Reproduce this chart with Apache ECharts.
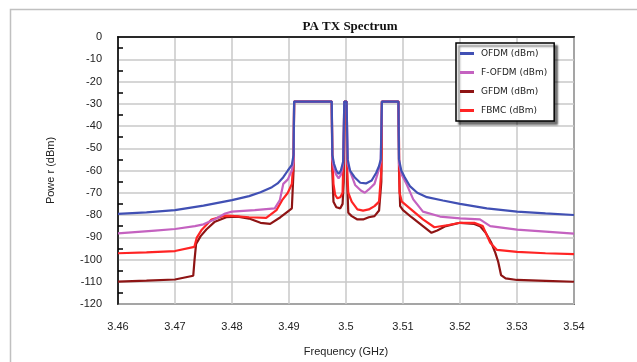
<!DOCTYPE html>
<html>
<head>
<meta charset="utf-8">
<script src="https://cdn.jsdelivr.net/npm/echarts@6/dist/echarts.min.js"></script>
<style>html,body{margin:0;padding:0;background:#fff}#c{width:637px;height:362px}</style>
</head>
<body>
<div id="c"></div>
<script>
const seriesNames = ['OFDM (dBm)', 'F-OFDM (dBm)', 'GFDM (dBm)', 'FBMC (dBm)'];
const xTicks = [3.46, 3.47, 3.48, 3.49, 3.50, 3.51, 3.52, 3.53, 3.54];
const yTicks = [0, -10, -20, -30, -40, -50, -60, -70, -80, -90, -100, -110, -120];

const ofdm = [[3.46,-79.5],[3.465,-78.8],[3.47,-77.8],[3.475,-75.8],[3.48,-73.3],[3.483,-71.5],[3.485,-69.8],[3.487,-67.5],[3.488,-65.8],[3.489,-63],[3.4898,-60],[3.4905,-57.5],[3.4908,-53],[3.4909,-29],[3.4975,-29],[3.4976,-53],[3.4979,-57],[3.4983,-60],[3.4987,-61.5],[3.4991,-60],[3.4995,-56],[3.4997,-29],[3.5001,-29],[3.5003,-55],[3.5007,-60],[3.5015,-63],[3.5025,-65.5],[3.5035,-65.8],[3.5045,-64.5],[3.5053,-61],[3.5058,-58],[3.5061,-55],[3.5063,-29],[3.5092,-29],[3.5093,-55],[3.5097,-60],[3.5103,-63],[3.5112,-67],[3.5125,-70],[3.5142,-72],[3.517,-73.5],[3.52,-75],[3.5247,-77],[3.53,-78.5],[3.535,-79.3],[3.54,-80]];

const fofdm = [[3.46,-88.3],[3.4665,-87],[3.47,-86.3],[3.4735,-85],[3.475,-84.2],[3.477,-81.9],[3.4788,-79.3],[3.48,-78.5],[3.484,-77.8],[3.4875,-77],[3.4884,-73.3],[3.489,-66],[3.4898,-64],[3.4905,-60],[3.4908,-56],[3.4909,-29],[3.4975,-29],[3.4976,-55],[3.4979,-59],[3.4983,-62],[3.4987,-63.5],[3.4991,-62],[3.4995,-57],[3.4997,-29],[3.5001,-29],[3.5003,-57],[3.5008,-61],[3.5016,-66.5],[3.5026,-69],[3.5033,-70],[3.504,-68.5],[3.505,-66],[3.5056,-61],[3.5061,-56],[3.5063,-29],[3.5092,-29],[3.5093,-57],[3.5098,-62],[3.5106,-66],[3.5118,-73],[3.5135,-78.5],[3.5165,-80.7],[3.52,-81.5],[3.5235,-82],[3.5253,-85],[3.53,-86.6],[3.535,-87.5],[3.54,-88.4]];

const gfdm = [[3.46,-109.9],[3.465,-109.5],[3.47,-109],[3.4732,-107.3],[3.4734,-101],[3.4737,-93],[3.4745,-89.5],[3.4755,-86.5],[3.477,-83],[3.479,-81],[3.481,-80.7],[3.483,-81.6],[3.485,-83.5],[3.4867,-84],[3.4885,-81],[3.49,-78],[3.4905,-77],[3.4908,-60],[3.4909,-29],[3.4975,-29],[3.4976,-60],[3.4978,-74],[3.4983,-76.5],[3.499,-77],[3.4994,-75],[3.4996,-65],[3.4997,-29],[3.5001,-29],[3.5002,-65],[3.5004,-79],[3.501,-80.5],[3.502,-82],[3.503,-82],[3.504,-81],[3.505,-80.5],[3.5058,-78],[3.5062,-65],[3.5063,-29],[3.5092,-29],[3.5093,-60],[3.5095,-76],[3.51,-77.8],[3.5115,-81],[3.5135,-85],[3.515,-88],[3.516,-87],[3.5175,-85],[3.52,-83.5],[3.5225,-84],[3.5235,-85],[3.5245,-88],[3.5255,-92.5],[3.5262,-97],[3.5267,-101],[3.5272,-107],[3.528,-108.5],[3.53,-109.2],[3.535,-109.6],[3.54,-110]];

const fbmc = [[3.46,-97.2],[3.465,-96.8],[3.47,-96.2],[3.4734,-94.3],[3.4738,-90.3],[3.4747,-86.6],[3.4764,-82],[3.4788,-80.3],[3.48,-80.4],[3.483,-81],[3.486,-81.3],[3.4878,-77.8],[3.4888,-73.3],[3.4898,-70],[3.4905,-66],[3.4908,-55],[3.4909,-29],[3.4975,-29],[3.4976,-53],[3.4978,-66],[3.4981,-71],[3.4985,-72.5],[3.499,-72],[3.4994,-70],[3.4996,-48],[3.4997,-29],[3.5001,-29],[3.5002,-60],[3.5004,-70],[3.501,-74],[3.502,-77.5],[3.503,-78],[3.504,-77.5],[3.505,-76],[3.5058,-74],[3.5062,-60],[3.5063,-29],[3.5092,-29],[3.5093,-47],[3.5094,-70],[3.5098,-74],[3.5112,-77],[3.5135,-82],[3.5155,-85.5],[3.518,-84.5],[3.52,-83.5],[3.5225,-83.5],[3.524,-85],[3.5253,-92.5],[3.5265,-95.7],[3.53,-96.6],[3.535,-97.2],[3.54,-97.6]];

const colors = ['#4150b4', '#c462c0', '#8e1414', '#ff2424'];
const dataSets = [ofdm, fofdm, gfdm, fbmc];
const zs = [6, 5, 3, 4];

const yMin = yTicks[yTicks.length - 1], yMax = yTicks[0];
const chart = echarts.init(document.getElementById('c'), null, {renderer: 'canvas'});
chart.setOption({
  animation: false,
  backgroundColor: '#fff',
  graphic: [{
    type: 'rect', left: 8, top: 7, silent: true, z: -10,
    shape: {width: 700, height: 400},
    style: {fill: 'none', stroke: '#c0c0c0', lineWidth: 1.5}
  }],
  title: {
    text: 'PA TX Spectrum', left: 345, top: 15, textAlign: 'center',
    textStyle: {fontFamily: 'Liberation Serif', fontWeight: 'bold', fontSize: 13, color: '#111'}
  },
  legend: {
    data: seriesNames, orient: 'vertical', left: 456, top: 43,
    padding: [6, 7, 6, 4], itemGap: 10, itemWidth: 14, itemHeight: 3, icon: 'rect',
    backgroundColor: '#fff', borderColor: '#000', borderWidth: 1.5,
    shadowColor: 'rgba(0,0,0,0.55)', shadowBlur: 2, shadowOffsetX: 3, shadowOffsetY: 3,
    textStyle: {fontFamily: 'DejaVu Sans', fontSize: 9, color: '#222', padding: [0, 0, 0, 2]}
  },
  grid: {left: 118, top: 37, right: 63, bottom: 53, show: true, borderColor: '#000', borderWidth: 1.5, backgroundColor: 'transparent'},
  xAxis: {
    type: 'value', min: xTicks[0], max: xTicks[xTicks.length - 1], interval: 0.01,
    name: 'Frequency (GHz)', nameLocation: 'middle', nameGap: 42,
    nameTextStyle: {fontFamily: 'Liberation Sans', fontSize: 11, color: '#222'},
    axisLine: {lineStyle: {color: '#000', width: 1.5}},
    axisTick: {show: false},
    axisLabel: {margin: 17, fontFamily: 'Liberation Sans', fontSize: 11, color: '#222',
      formatter: v => String(+(+v).toFixed(2))},
    splitLine: {lineStyle: {color: '#c8c8c8', width: 1.5}}
  },
  yAxis: [{
    type: 'value', min: yMin, max: yMax, interval: 10,
    name: 'Powe r (dBm)', nameLocation: 'middle', nameGap: 62,
    nameTextStyle: {fontFamily: 'Liberation Sans', fontSize: 11, color: '#222'},
    axisLine: {lineStyle: {color: '#000', width: 1.5}},
    axisTick: {show: false},
    axisLabel: {margin: 16, fontFamily: 'Liberation Sans', fontSize: 11, color: '#222'},
    splitLine: {lineStyle: {color: '#c8c8c8', width: 1.5}}
  }, {
    type: 'value', min: yMin, max: yMax, interval: 10, position: 'right', offset: -456,
    axisLine: {show: false}, axisTick: {show: false}, axisLabel: {show: false}, splitLine: {show: false},
    minorTick: {show: true, splitNumber: 2, length: 5, lineStyle: {color: '#000', width: 1.5}}
  }],
  series: seriesNames.map((n, i) => ({
    name: n, type: 'line', data: dataSets[i], showSymbol: false, symbol: 'none', z: zs[i],
    lineStyle: {color: colors[i], width: 2.2}, itemStyle: {color: colors[i]}
  }))
});
</script>
</body>
</html>
